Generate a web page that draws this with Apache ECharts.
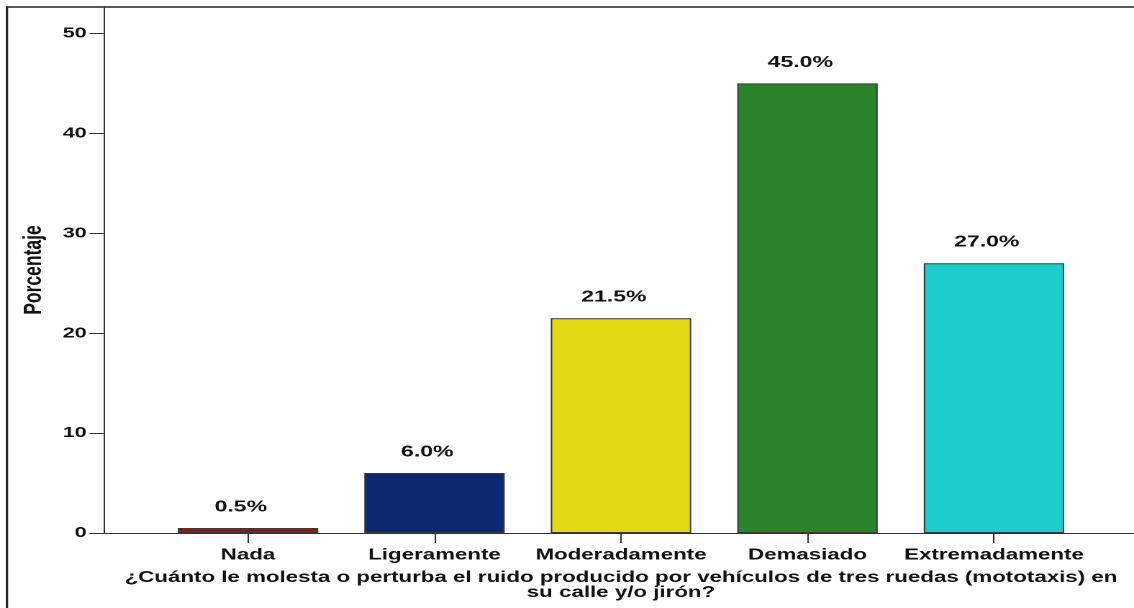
<!DOCTYPE html>
<html>
<head>
<meta charset="utf-8">
<title>Porcentaje</title>
<script src="https://cdn.jsdelivr.net/npm/echarts@6/dist/echarts.min.js"></script>
<style>
  html, body { margin: 0; padding: 0; background: #ffffff; overflow: hidden; }
  /* The chart is laid out on a narrower canvas and widened, which gives the wide, flat lettering */
  #chart {
    width: 788px;
    height: 608px;
    transform: scaleX(1.43909);
    transform-origin: 0 0;
  }
</style>
</head>
<body>
<div id="chart"></div>
<script>
// Data
const categories = ['Nada', 'Ligeramente', 'Moderadamente', 'Demasiado', 'Extremadamente'];
const percentages = [0.5, 6.0, 21.5, 45.0, 27.0];
const barColors = ['#A30D0D', '#0B2870', '#E3D912', '#2A842B', '#1ECCCC'];
const yAxisMax = 52.65;
const yAxisStep = 10;
const yTitle = 'Porcentaje';
const xTitle = '¿Cuánto le molesta o perturba el ruido producido por vehículos de tres ruedas (mototaxis) en\nsu calle y/o jirón?';

const FONT = '"Liberation Sans", Arial, sans-serif';
const INK = '#111111';
const AXIS = '#333333';

const chart = echarts.init(document.getElementById('chart'), null, { renderer: 'canvas', devicePixelRatio: 2 });

chart.setOption({
  backgroundColor: '#ffffff',
  animation: false,
  // outer border: top and left edges only
  graphic: [
    {
      type: 'polyline',
      silent: true,
      shape: { points: [[4.86, 620], [4.86, 7], [800, 7]] },
      style: { stroke: '#222222', lineWidth: 1.6, fill: null }
    }
  ],
  grid: [
    // axes frame: y axis line and the full-width baseline
    { left: 72.27, right: 0, top: 7, bottom: 75 },
    // category band area for the bars
    { left: 107.53, right: 32.5, top: 7, bottom: 75 }
  ],
  xAxis: [
    {
      gridIndex: 0, type: 'value', min: 0, max: 1,
      axisLine: { show: true, lineStyle: { color: AXIS, width: 1 } },
      axisTick: { show: false }, axisLabel: { show: false }, splitLine: { show: false }
    },
    {
      gridIndex: 1, type: 'category', data: categories,
      axisLine: { show: false },
      axisTick: { show: true, alignWithLabel: true, length: 10, lineStyle: { color: AXIS, width: 1 } },
      axisLabel: { interval: 0, margin: 14, fontSize: 15.5, fontWeight: 'bold', color: INK, fontFamily: FONT },
      splitLine: { show: false },
      name: xTitle, nameLocation: 'middle', nameGap: 37,
      nameTextStyle: { fontSize: 15.5, fontWeight: 'bold', color: INK, fontFamily: FONT, lineHeight: 15, align: 'center' }
    }
  ],
  yAxis: [
    {
      gridIndex: 0, type: 'value', min: 0, max: yAxisMax, interval: yAxisStep,
      axisLine: { show: true, lineStyle: { color: AXIS, width: 1 } },
      axisTick: { show: true, length: 10, lineStyle: { color: AXIS, width: 1 } },
      axisLabel: {
        margin: 12, fontSize: 15, fontWeight: 'bold', color: INK, fontFamily: FONT,
        showMaxLabel: false,
        formatter: v => (v % yAxisStep === 0 ? String(v) : '')
      },
      splitLine: { show: false },
      name: yTitle, nameLocation: 'middle', nameGap: 39,
      nameTextStyle: { fontSize: 17.5, fontWeight: 'bold', color: INK, fontFamily: FONT }
    },
    { gridIndex: 1, type: 'value', min: 0, max: yAxisMax, show: false }
  ],
  series: [
    {
      type: 'bar',
      xAxisIndex: 1,
      yAxisIndex: 1,
      barWidth: 97.6,
      data: percentages.map((v, i) => ({
        value: v,
        itemStyle: { color: barColors[i], borderColor: '#3a3a3a', borderWidth: 1 }
      })),
      label: {
        show: true, position: 'top', distance: 13, offset: [-5, 0],
        fontSize: 16, fontWeight: 'bold', color: INK, fontFamily: FONT,
        formatter: p => p.value.toFixed(1) + '%'
      }
    }
  ]
});
</script>
</body>
</html>
